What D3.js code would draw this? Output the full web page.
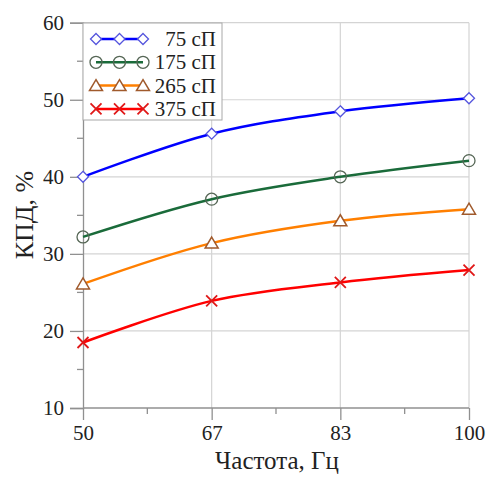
<!DOCTYPE html>
<html><head><meta charset="utf-8">
<script src="https://cdn.jsdelivr.net/npm/d3@7"></script>
<style>body{margin:0;background:#fff}svg{display:block}text{font-family:"Liberation Serif","Times New Roman",serif;fill:#222}</style>
</head><body><svg id="c" width="486" height="477"></svg>
<script>
const categories = ["50", "67", "83", "100"];
const seriesNames = ["75 cП", "175 cП", "265 cП", "375 cП"];
const v75 = [40.0, 45.6, 48.5, 50.2];
const v175 = [32.2, 37.1, 40.0, 42.1];
const v265 = [26.1, 31.4, 34.3, 35.8];
const v375 = [18.5, 23.9, 26.3, 27.9];
const yTicks = [10, 20, 30, 40, 50, 60];

const series = [
  {name: seriesNames[0], values: v75, color: "#0000ff", mcolor: "#5555dd", marker: "diamond"},
  {name: seriesNames[1], values: v175, color: "#1a6b3a", mcolor: "#556655", marker: "circle"},
  {name: seriesNames[2], values: v265, color: "#ff7f00", mcolor: "#a05a2c", marker: "triangle"},
  {name: seriesNames[3], values: v375, color: "#ff0000", mcolor: "#e01818", marker: "x"}
];

const svg = d3.select("#c");
const L = 83, R = 469, T = 22.7, B = 408;
const x = d3.scalePoint().domain(categories).range([L, R]);
const y = d3.scaleLinear().domain([10, 60]).range([B, T]);
const step = x.step();

// gridlines
const g = svg.append("g");
g.selectAll(".hg").data(yTicks.slice(1)).join("line")
  .attr("x1", L).attr("x2", R).attr("y1", d => y(d)).attr("y2", d => y(d))
  .attr("stroke", "#d4d4d4").attr("stroke-width", 1.2);
g.selectAll(".vg").data(categories.slice(1)).join("line")
  .attr("x1", d => x(d)).attr("x2", d => x(d)).attr("y1", T).attr("y2", B)
  .attr("stroke", "#d4d4d4").attr("stroke-width", 1.2);

// y axis
const yAxis = d3.axisLeft(y).tickValues(yTicks).tickSize(13).tickPadding(6);
const ya = svg.append("g").attr("transform", `translate(${L},0)`).call(yAxis);
ya.select(".domain").attr("stroke", "#909090").attr("stroke-width", 1.3);
ya.selectAll(".tick line").attr("stroke", "#909090").attr("stroke-width", 1.3);
ya.selectAll("text").attr("font-size", 21).attr("fill", "#222").style("font-family", '"Liberation Serif",serif');
const minorY = d3.range(15, 60, 10);
svg.append("g").selectAll("line").data(minorY).join("line")
  .attr("x1", L - 6).attr("x2", L).attr("y1", d => y(d)).attr("y2", d => y(d))
  .attr("stroke", "#909090").attr("stroke-width", 1.3);

// x axis
const xAxis = d3.axisBottom(x).tickSize(12).tickPadding(5);
const xa = svg.append("g").attr("transform", `translate(0,${B})`).call(xAxis);
xa.select(".domain").attr("stroke", "#909090").attr("stroke-width", 1.3).attr("d", `M${L},0H${R}`);
xa.selectAll(".tick line").attr("stroke", "#909090").attr("stroke-width", 1.3);
xa.selectAll("text").attr("font-size", 21).attr("fill", "#222").style("font-family", '"Liberation Serif",serif');
const minorX = categories.slice(0, -1).map(c => x(c) + step / 2);
svg.append("g").selectAll("line").data(minorX).join("line")
  .attr("x1", d => d).attr("x2", d => d).attr("y1", B).attr("y2", B + 6)
  .attr("stroke", "#909090").attr("stroke-width", 1.3);

// titles
svg.append("text").attr("x", 277).attr("y", 469).attr("text-anchor", "middle")
  .attr("font-size", 25).text("Частота, Гц");
svg.append("text").attr("transform", `translate(33,215) rotate(-90)`).attr("text-anchor", "middle")
  .attr("font-size", 26).text("КПД, %");

// markers
function drawMarker(sel, type, color, cx, cy) {
  const s = 5.5;
  if (type === "diamond") {
    sel.append("path").attr("d", `M${cx},${cy - s}L${cx + s},${cy}L${cx},${cy + s}L${cx - s},${cy}Z`)
      .attr("fill", "#fff").attr("stroke", color).attr("stroke-width", 1.3);
  } else if (type === "circle") {
    sel.append("circle").attr("cx", cx).attr("cy", cy).attr("r", 6)
      .attr("fill", "none").attr("stroke", color).attr("stroke-width", 1.3);
  } else if (type === "triangle") {
    sel.append("path").attr("d", `M${cx},${cy - 6}L${cx + 6.5},${cy + 5}L${cx - 6.5},${cy + 5}Z`)
      .attr("fill", "#fff").attr("stroke", color).attr("stroke-width", 1.5);
  } else {
    sel.append("path").attr("d", `M${cx - s},${cy - s}L${cx + s},${cy + s}M${cx - s},${cy + s}L${cx + s},${cy - s}`)
      .attr("stroke", color).attr("stroke-width", 1.8);
  }
}

const line = d3.line().x((d, i) => x(categories[i])).y(d => y(d)).curve(d3.curveCatmullRom.alpha(0.5));
series.forEach(s => {
  svg.append("path").datum(s.values).attr("d", line).attr("fill", "none")
    .attr("stroke", s.color).attr("stroke-width", 2.5);
});
series.forEach(s => {
  const mg = svg.append("g");
  s.values.forEach((v, i) => drawMarker(mg, s.marker, s.mcolor, x(categories[i]), y(v)));
});

// legend
const lg = svg.append("g");
lg.append("rect").attr("x", 83).attr("y", 23).attr("width", 139).attr("height", 97)
  .attr("fill", "#fff").attr("stroke", "#a8a8a8").attr("stroke-width", 1);
series.forEach((s, i) => {
  const cy = 39 + i * 23.3;
  lg.append("line").attr("x1", 96).attr("x2", 143).attr("y1", cy).attr("y2", cy)
    .attr("stroke", s.color).attr("stroke-width", 2.5);
  [96, 119.5, 143].forEach(cx => drawMarker(lg, s.marker, s.mcolor, cx, cy));
  lg.append("text").attr("x", 216).attr("y", cy + 7).attr("text-anchor", "end")
    .attr("font-size", 21).text(s.name);
});
</script></body></html>
